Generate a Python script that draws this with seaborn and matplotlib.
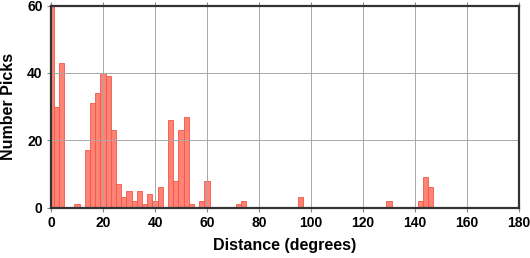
import numpy as np
import pandas as pd
import matplotlib
matplotlib.use("Agg")
import matplotlib.pyplot as plt
import seaborn as sns

# Histogram: bins of 2 degrees centred on even values
bin_centers = [0, 2, 4, 10, 14, 16, 18, 20, 22, 24, 26, 28, 30, 32, 34, 36, 38, 40, 42,
               46, 48, 50, 52, 54, 58, 60, 72, 74, 96, 130, 142, 144, 146]
counts = [62, 30, 43, 1, 17, 31, 34, 40, 39, 23, 7, 3, 5, 2, 5, 1, 4, 2, 6,
          26, 8, 23, 27, 1, 2, 8, 1, 2, 3, 2, 2, 9, 6]
x_ticks = [0, 20, 40, 60, 80, 100, 120, 140, 160, 180]
y_ticks = [0, 20, 40, 60]

df = pd.DataFrame({"distance": bin_centers, "picks": counts})

sns.set_theme(style="white")
plt.rcParams['font.family'] = ['Liberation Sans', 'DejaVu Sans']
plt.rcParams['text.color'] = 'black'
plt.rcParams['axes.labelcolor'] = 'black'
plt.rcParams['xtick.labelcolor'] = 'black'
plt.rcParams['ytick.labelcolor'] = 'black'

fig = plt.figure(figsize=(5.30, 2.58), dpi=100)
ax = fig.add_axes([51 / 530, 1 - 207.5 / 258, (519 - 51) / 530, (207.5 - 5.7) / 258])

sns.histplot(data=df, x="distance", weights="picks", binwidth=2, binrange=(-1, 181),
             color="#FF7B6E", edgecolor="#F0584A", linewidth=0.6, alpha=0.95, ax=ax)

ax.set_xlim(0, 180)
ax.set_ylim(0, 60)
ax.set_xticks(x_ticks)
ax.set_yticks(y_ticks)
ax.set_axisbelow(False)
ax.grid(True, color="#a8a8a8", linewidth=0.7, zorder=5)
for s in ax.spines.values():
    s.set_color("#333333")
    s.set_linewidth(1.6)
    s.set_zorder(6)

ax.tick_params(axis="both", which="major", direction="out", length=3, width=0.8,
               color="#888888", labelsize=10, labelcolor="black", pad=3,
               bottom=True, left=True, top=True)
ax.tick_params(axis="x", labeltop=False)
for lab in ax.get_xticklabels() + ax.get_yticklabels():
    lab.set_fontweight("bold")

ax.set_xlabel("Distance (degrees)", fontsize=11.5, fontweight="bold", labelpad=6, color="black")
ax.set_ylabel("Number Picks", fontsize=11.5, fontweight="bold", labelpad=8, color="black")

fig.savefig("out.png", dpi=100)
